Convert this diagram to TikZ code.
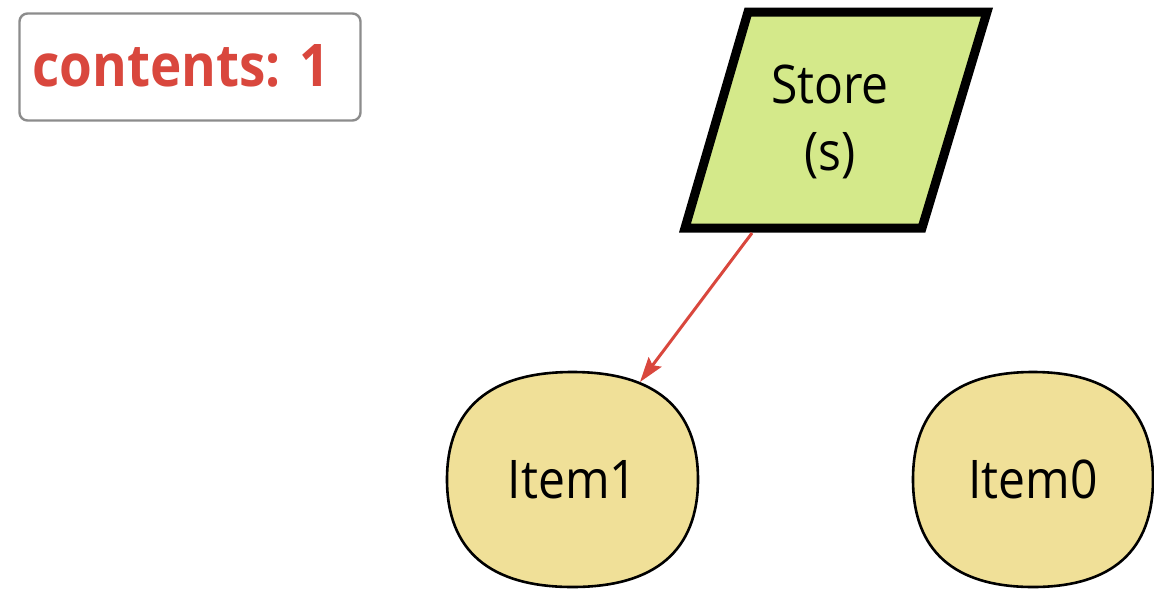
\documentclass[tikz,border=0pt]{standalone}
\usepackage{fontspec}
\setmainfont{Open Sans}
\usetikzlibrary{arrows.meta}
\definecolor{itemfill}{HTML}{F0E098}
\definecolor{storefill}{HTML}{D4E98A}
\definecolor{redtxt}{HTML}{D9473D}
\definecolor{boxgray}{HTML}{8C8C8C}
\newcommand{\vstretch}[1]{\scalebox{1}[1.11]{#1}}
% superellipse-like outline, half width #1, half height #2, centred at origin
\newcommand{\squircle}[2]{%
  (#1,0) .. controls (#1,0.66*#2) and (0.66*#1,#2) .. (0,#2)
  .. controls (-0.66*#1,#2) and (-#1,0.66*#2) .. (-#1,0)
  .. controls (-#1,-0.66*#2) and (-0.66*#1,-#2) .. (0,-#2)
  .. controls (0.66*#1,-#2) and (#1,-0.66*#2) .. (#1,0) -- cycle}
\tikzset{
  itemshape/.style={draw=black, line width=2.6pt, fill=itemfill},
  itemtext/.style={inner sep=0pt, font=\fontsize{48}{56}\selectfont},
  storeshape/.style={draw=black, line width=9pt, fill=storefill, line join=miter},
  storetext/.style={align=center, inner sep=0pt, font=\fontsize{48}{67}\selectfont},
  legendbox/.style={draw=boxgray, line width=2.4pt, fill=white, rounded corners=8pt},
  legendtext/.style={text=redtxt, inner sep=0pt, anchor=base west,
    font=\fontsize{53}{60}\selectfont\bfseries},
  relarrow/.style={draw=redtxt, line width=3pt, -{Stealth[length=25pt,width=16pt,inset=4pt]}}
}
\begin{document}
\begin{tikzpicture}[x=1pt,y=-1pt]
\useasboundingbox (0,0) rectangle (1154,590);
% legend
\draw[legendbox] (19.5,13.5) rectangle (360.5,120.5);
\node[legendtext] (legend) at (32,86) {\vstretch{contents: 1}};
% store parallelogram
\coordinate (stl) at (748,12);
\coordinate (str) at (987,12);
\coordinate (sbr) at (922,228);
\coordinate (sbl) at (685,228);
\draw[storeshape] (stl) -- (str) -- (sbr) -- (sbl) -- cycle;
\node[storetext] (store) at (830,122) {\vstretch{Store}\\\vstretch{(s)}};
\coordinate (sbot) at (752,233);
% items
\coordinate (c1) at (572.5,479.5);
\coordinate (c0) at (1033,479.5);
\draw[itemshape, shift={(c1)}] \squircle{125.5}{107.5};
\draw[itemshape, shift={(c0)}] \squircle{120}{107.5};
\node[itemtext] (item1) at (c1) {\vstretch{Item1}};
\node[itemtext] (item0) at (c0) {\vstretch{Item0}};
\coordinate (i1hit) at (640,382);
% connector
\draw[relarrow] (sbot) -- (i1hit);
\end{tikzpicture}
\end{document}
